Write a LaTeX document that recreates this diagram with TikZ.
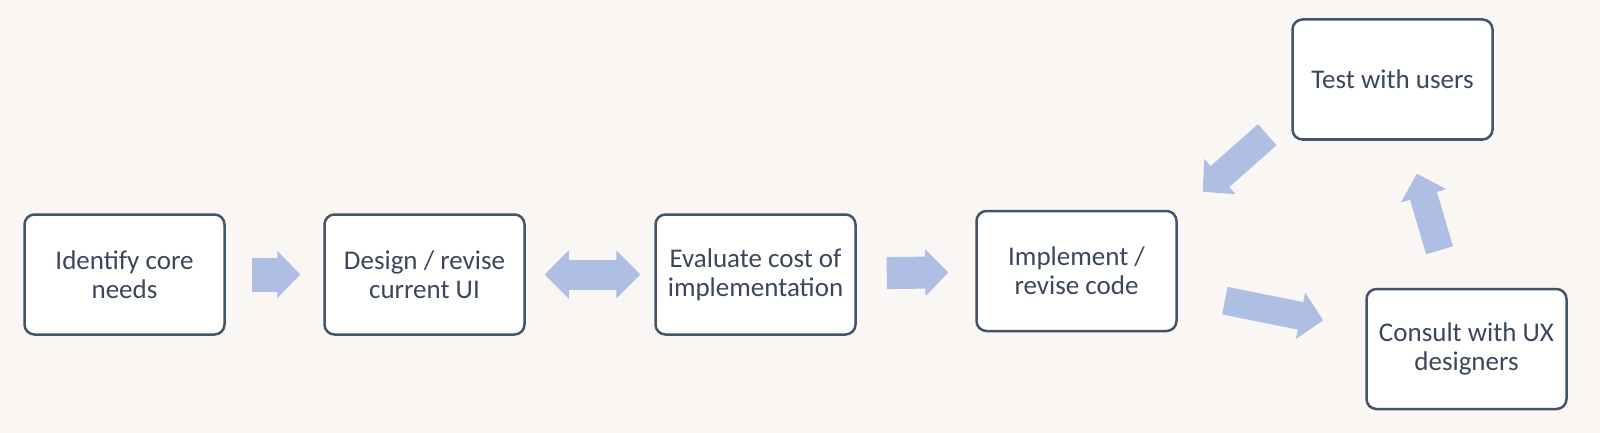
\documentclass[tikz,border=0pt]{standalone}
\usepackage{fontspec}
\setmainfont{Carlito}
\usetikzlibrary{arrows.meta, calc}
\definecolor{pagebg}{RGB}{249,246,243}
\definecolor{boxline}{RGB}{68,84,106}
\definecolor{boxtext}{RGB}{58,71,93}
\definecolor{arrowblue}{RGB}{174,191,227}

\begin{document}
\begin{tikzpicture}[x=0.5pt,y=0.5pt,yscale=-1,xscale=1,
  stepbox/.style={draw=boxline, line width=1.25pt, fill=white, rounded corners=5pt,
    minimum width=100pt, minimum height=60pt, inner sep=0.75pt, align=center,
    text=boxtext, font=\fontsize{13.5}{14.5}\selectfont},
  blockarrow/.style={draw=arrowblue, line width=15pt,
    -{Triangle[width=23.5pt,length=11.5pt,line width=0.5pt]}},
  blockarrows/.style={draw=arrowblue, line width=15pt,
    {Triangle[width=24pt,length=12pt,line width=0.5pt]}-{Triangle[width=24pt,length=12pt,line width=0.5pt]}}
]
\fill[pagebg] (0,0) rectangle (1600,433);
\useasboundingbox (0,0) rectangle (1600,433);

% Rounded Rect
\node[stepbox] (ident) at (124.5,274.5) {Identify core\\needs};
% Rounded Rect
\node[stepbox] (design) at (424.5,274.5) {Design / revise\\current UI};
% Rounded Rect
\node[stepbox] (eval) at (755.5,274.5) {Evaluate cost of\\implementation};
% Rounded Rect
\node[stepbox] (impl) at (1076.5,271) {Implement /\\revise code};
% Rounded Rect
\node[stepbox] (test) at (1392.5,79.5) {Test with users};
% Rounded Rect
\node[stepbox] (consult) at (1466.5,349) {Consult with UX\\designers};

% Block Arrows
\draw[blockarrow, line width=17pt, shorten <=13pt, shorten >=11.5pt] (ident) -- (design);
\draw[blockarrows, shorten <=9.5pt, shorten >=7pt] (design) -- (eval);
\draw[blockarrow, line width=16pt, shorten <=15pt, shorten >=13.5pt] (eval) -- (impl);
\draw[blockarrow, line width=14pt, shorten <=24pt, shorten >=21.5pt] (impl) -- (consult);

\coordinate (consulttail) at ($(consult.north)+(-27,-37.5)$);
\coordinate (testtip) at ($(test.south)+(24.5,33)$);
\draw[blockarrow, line width=14pt] (consulttail) -- (testtip);

\coordinate (testtail) at ($(test.south west)+(-24,-6)$);
\coordinate (impltip) at ($(impl.north east)+(25,-18)$);
\draw[blockarrow, line width=14pt] (testtail) -- (impltip);

\end{tikzpicture}
\end{document}
